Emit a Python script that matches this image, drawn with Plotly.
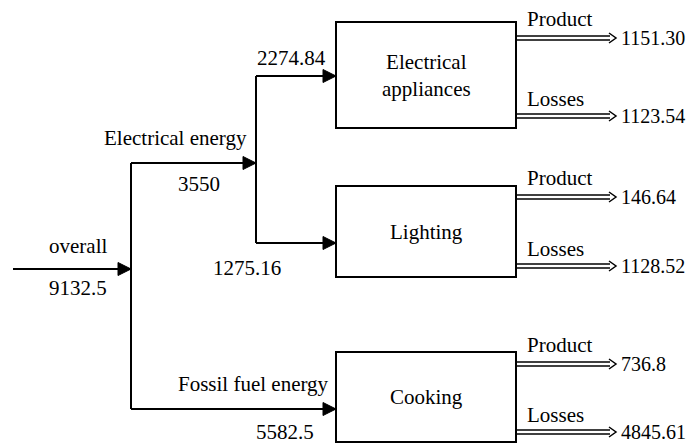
import plotly.graph_objects as go

# ---- data ----
total_label = "overall"
total_value = "9132.5"
sources = ["Electrical energy", "Fossil fuel energy"]
source_values = ["3550", "5582.5"]
uses = ["Electrical<br>appliances", "Lighting", "Cooking"]
use_inputs = ["2274.84", "1275.16", "5582.5"]
product_values = ["1151.30", "146.64", "736.8"]
loss_values = ["1123.54", "1128.52", "4845.61"]
out_labels = ["Product", "Losses"]

# ---- layout geometry (pixel space of the page) ----
W, H = 697, 443
OFF = 8  # page body margin
FONT = "Liberation Serif"
FS = 21
LW = 2
box_x0, box_x1 = 336, 516
boxes_y = [(22, 128), (186, 277), (352, 442)]
prod_y = [38, 197, 364]
loss_y = [116, 266, 432]
arrow_end = 616

fig = go.Figure()

def line(xs, ys, w=LW):
    fig.add_trace(go.Scatter(x=xs, y=ys, mode="lines",
                             line=dict(color="black", width=w),
                             hoverinfo="skip", showlegend=False))

def head(xtip, y, L=13, h=6.5):
    fig.add_trace(go.Scatter(x=[xtip - L, xtip, xtip - L, xtip - L],
                             y=[y - h, y, y + h, y - h], mode="lines",
                             fill="toself", fillcolor="black",
                             line=dict(color="black", width=1),
                             hoverinfo="skip", showlegend=False))

def text(x, y, s, anchor="center", size=FS):
    fig.add_annotation(x=x, y=y, text=s, showarrow=False, xanchor=anchor,
                       yanchor="middle", font=dict(family=FONT, size=size, color="black"))

def double_arrow(y, x1=arrow_end):
    g = 2
    line([box_x1, x1 - 6], [y - g, y - g], 1.5)
    line([box_x1, x1 - 6], [y + g, y + g], 1.5)
    line([x1 - 7, x1, x1 - 7], [y - 5, y, y + 5], 1.5)

# input arrow
line([13, 131], [269, 269]); head(131, 269)
text(78, 246, total_label); text(78, 288, total_value)
# main trunk
line([131, 131], [163, 409])
# electrical branch
line([131, 256], [163, 163]); head(256, 163)
text(175, 138, sources[0]); text(199, 184, source_values[0])
line([256, 256], [76, 243])
line([256, box_x0], [76, 76]); head(box_x0, 76)
line([256, box_x0], [243, 243]); head(box_x0, 243)
text(291, 58, use_inputs[0]); text(247, 268, use_inputs[1])
# fossil branch
line([131, box_x0], [409, 409]); head(box_x0, 409)
text(253, 384, sources[1]); text(285, 432, source_values[1])

# boxes
for i, (y0, y1) in enumerate(boxes_y):
    fig.add_shape(type="rect", x0=box_x0, x1=box_x1, y0=y0, y1=y1,
                  line=dict(color="black", width=LW), fillcolor="white", layer="below")
    text((box_x0 + box_x1) / 2, (y0 + y1) / 2, uses[i])
    double_arrow(prod_y[i]); double_arrow(loss_y[i])
    text(525, prod_y[i] - 19, out_labels[0], "left")
    text(525, loss_y[i] - 17, out_labels[1], "left")
    text(619, prod_y[i], product_values[i], "left", 20)
    text(619, loss_y[i], loss_values[i], "left", 20)

fig.update_layout(width=W - OFF, height=H - OFF, margin=dict(l=0, r=0, t=0, b=0),
                  plot_bgcolor="white", paper_bgcolor="white",
                  xaxis=dict(range=[OFF, W], visible=False, fixedrange=True),
                  yaxis=dict(range=[H, OFF], visible=False, fixedrange=True))
fig.write_html("out.html")
